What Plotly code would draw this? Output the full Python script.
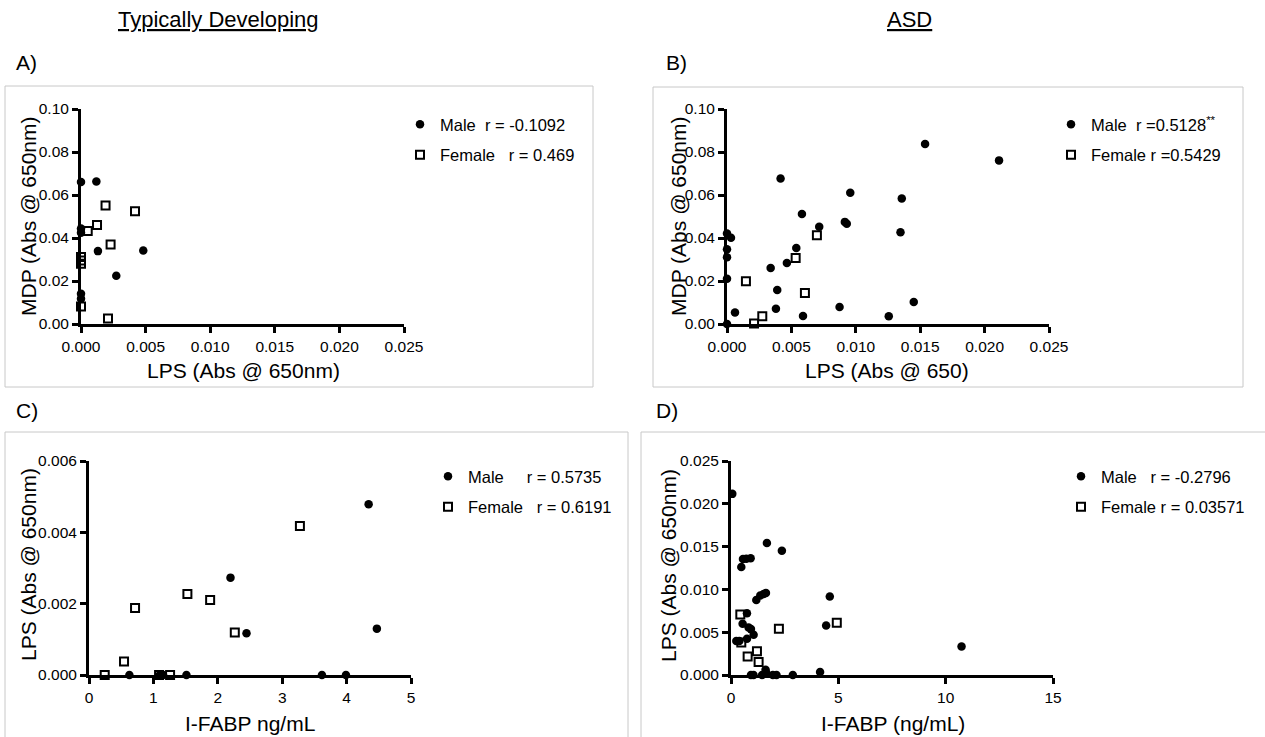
import plotly.graph_objects as go

W, H = 1265, 737

# ---------------- data ----------------
# Panel A: Typically Developing, LPS vs MDP
A_male_x = [0.0, 0.00119, 0.0, 0.0, 0.00131, 0.00482, 0.00273, 0.0, 0.0]
A_male_y = [0.066, 0.0663, 0.0444, 0.0425, 0.0339, 0.0342, 0.0224, 0.0141, 0.0118]
A_female_x = [0.00052, 0.00124, 0.0019, 0.00418, 0.00229, 0.0, 0.0, 0.0, 0.0, 0.00209]
A_female_y = [0.0432, 0.046, 0.0551, 0.0525, 0.037, 0.0312, 0.0295, 0.028, 0.0081, 0.0026]

# Panel B: ASD, LPS vs MDP
B_male_x = [0.0, 0.00031, 0.0, 0.0, 0.0, 0.0, 0.00062, 0.00339, 0.0039, 0.0038,
            0.00416, 0.00465, 0.00538, 0.00582, 0.0059, 0.00716, 0.00874, 0.00915,
            0.0093, 0.00957, 0.01256, 0.01347, 0.01357, 0.0145, 0.01538, 0.02112]
B_male_y = [0.0421, 0.0401, 0.0348, 0.0311, 0.0211, 0.0, 0.0054, 0.0261, 0.0158, 0.0071,
            0.0677, 0.0284, 0.0354, 0.0512, 0.0037, 0.0452, 0.0079, 0.0475,
            0.0466, 0.061, 0.0036, 0.0427, 0.0584, 0.0102, 0.0837, 0.0761]
B_female_x = [0.00147, 0.0021, 0.00274, 0.00533, 0.00698, 0.00605]
B_female_y = [0.0199, 0.0002, 0.0036, 0.0307, 0.0413, 0.0144]

# Panel C: Typically Developing, I-FABP vs LPS
C_male_x = [4.342, 2.197, 2.446, 4.47, 0.627, 1.098, 1.15, 1.513, 3.617, 3.99]
C_male_y = [0.00479, 0.00273, 0.00117, 0.0013, 0.0, 0.0, 0.0, 0.0, 0.0, 0.0]
C_female_x = [0.244, 0.544, 0.715, 1.528, 1.881, 2.264, 3.275, 1.088, 1.259]
C_female_y = [0.0, 0.00038, 0.00188, 0.00227, 0.0021, 0.00119, 0.00418, 0.0, 0.0]

# Panel D: ASD, I-FABP vs LPS
D_male_x = [0.06, 1.673, 2.37, 0.558, 0.713, 0.914, 0.48, 1.178, 1.364, 1.519, 1.627,
            4.602, 4.432, 10.74, 0.744, 0.542, 0.82, 0.93, 1.054, 0.744, 0.248, 0.387,
            1.61, 1.64, 4.15, 0.93, 1.05, 1.45, 1.95, 2.12, 2.88]
D_male_y = [0.02116, 0.01541, 0.01452, 0.01355, 0.01359, 0.01363, 0.01262, 0.00877,
            0.00928, 0.00947, 0.00959, 0.00916, 0.00578, 0.00334, 0.00722, 0.00598,
            0.00555, 0.00536, 0.0047, 0.00423, 0.00396, 0.00396, 0.00062, 0.0003,
            0.00035, 0.0, 0.0, 0.0, 0.0, 0.0, 0.0]
D_female_x = [0.434, 0.48, 0.775, 1.209, 1.286, 2.231, 4.928]
D_female_y = [0.00707, 0.0038, 0.00217, 0.00276, 0.00151, 0.0054, 0.0061]

NB = "\u00a0"
legend_labels = {
    "A": ("Male" + NB * 2 + "r = -0.1092", "Female" + NB * 3 + "r = 0.469"),
    "B": ("Male" + NB * 2 + "r =0.5128<sup>**</sup>", "Female" + NB + "r =0.5429"),
    "C": ("Male" + NB * 5 + "r = 0.5735", "Female" + NB * 3 + "r = 0.6191"),
    "D": ("Male" + NB * 3 + "r = -0.2796", "Female" + NB + "r = 0.03571"),
}

x_titles = {"A": "LPS (Abs @ 650nm)", "B": "LPS (Abs @ 650)",
            "C": "I-FABP ng/mL", "D": "I-FABP (ng/mL)"}
y_titles = {"A": "MDP (Abs @ 650nm)", "B": "MDP (Abs @ 650nm)",
            "C": "LPS (Abs @ 650nm)", "D": "LPS (Abs @ 650nm)"}

x_ticks = {"A": [0, 0.005, 0.01, 0.015, 0.02, 0.025],
           "B": [0, 0.005, 0.01, 0.015, 0.02, 0.025],
           "C": [0, 1, 2, 3, 4, 5],
           "D": [0, 5, 10, 15]}
y_ticks = {"A": [0, 0.02, 0.04, 0.06, 0.08, 0.10],
           "B": [0, 0.02, 0.04, 0.06, 0.08, 0.10],
           "C": [0, 0.002, 0.004, 0.006],
           "D": [0, 0.005, 0.01, 0.015, 0.02, 0.025]}
x_fmt = {"A": ".3f", "B": ".3f", "C": "d", "D": "d"}
y_fmt = {"A": ".2f", "B": ".2f", "C": ".3f", "D": ".3f"}

data = {
    "A": (A_male_x, A_male_y, A_female_x, A_female_y),
    "B": (B_male_x, B_male_y, B_female_x, B_female_y),
    "C": (C_male_x, C_male_y, C_female_x, C_female_y),
    "D": (D_male_x, D_male_y, D_female_x, D_female_y),
}

# ---------------- layout geometry (pixels) ----------------
def px(x):
    return x / W

def py(y):
    return 1 - y / H

# plot areas: (x0, x1, ytop, ybottom)
areas = {"A": (81, 404, 109, 324), "B": (727, 1049, 109, 324),
         "C": (89, 411, 461, 675), "D": (731, 1053, 461, 675)}
boxes = {"A": (5, 593, 86, 387), "B": (653, 1243, 87, 387),
         "C": (5, 628, 432, 745), "D": (641, 1270, 432, 745)}
legend_pos = {"A": (400, 107), "B": (1051, 107), "C": (428, 459), "D": (1061, 459)}
xtitle_pos = {"A": (243, 370), "B": (887, 370), "C": (250, 723), "D": (893, 723)}
ytitle_pos = {"A": (28, 216), "B": (678, 216), "C": (28, 565), "D": (668, 565)}
panel_letters = {"A": (14, 62), "B": (664, 62), "C": (14, 410), "D": (654, 410)}

FONT = "Liberation Sans, Arial, sans-serif"

fig = go.Figure()
layout = dict(
    width=W, height=H,
    margin=dict(l=0, r=0, t=0, b=0, pad=0, autoexpand=False),
    paper_bgcolor="white", plot_bgcolor="white",
    font=dict(family=FONT, color="black"),
    shapes=[], annotations=[],
)

for i, key in enumerate(["A", "B", "C", "D"]):
    n = "" if i == 0 else str(i + 1)
    xa, ya = "x" + n, "y" + n
    leg = "legend" + n
    mx, my, fx, fy = data[key]
    mlab, flab = legend_labels[key]
    fig.add_trace(go.Scatter(
        x=mx, y=my, mode="markers", name=mlab, xaxis=xa, yaxis=ya,
        legend=leg, legendgroup=key + "m", cliponaxis=False,
        marker=dict(symbol="circle", size=8.5, color="black"),
    ))
    fig.add_trace(go.Scatter(
        x=fx, y=fy, mode="markers", name=flab, xaxis=xa, yaxis=ya,
        legend=leg, legendgroup=key + "f", cliponaxis=False,
        marker=dict(symbol="square-open", size=8,
                    color="black", line=dict(width=2, color="black")),
    ))
    x0, x1, yt, yb = areas[key]
    xt = x_ticks[key]
    yt_ = y_ticks[key]
    axis_common = dict(
        showline=True, linecolor="black", linewidth=3,
        ticks="outside", ticklen=6, tickwidth=2.5, tickcolor="black",
        showgrid=False, zeroline=False, fixedrange=True, automargin=False,
        tickfont=dict(size=15.5, family=FONT, color="black"),
    )
    layout["xaxis" + n] = dict(
        axis_common, domain=[px(x0), px(x1)], anchor=ya,
        range=[xt[0], xt[-1]], tickvals=xt, tickformat=x_fmt[key],
    )
    layout["yaxis" + n] = dict(
        axis_common, domain=[py(yb), py(yt)], anchor=xa,
        range=[yt_[0], yt_[-1]], tickvals=yt_, tickformat=y_fmt[key],
    )
    lx, ly = legend_pos[key]
    layout[leg] = dict(
        x=px(lx), y=py(ly), xanchor="left", yanchor="top",
        bgcolor="rgba(0,0,0,0)", borderwidth=0,
        font=dict(size=16.5, family=FONT, color="black"),
        traceorder="grouped", tracegroupgap=6, itemclick=False,
    )
    bx0, bx1, by0, by1 = boxes[key]
    layout["shapes"].append(dict(
        type="rect", xref="paper", yref="paper",
        x0=px(bx0), x1=px(bx1), y0=py(by1), y1=py(by0),
        line=dict(color="#c8c8c8", width=1), fillcolor="rgba(0,0,0,0)",
        layer="below",
    ))
    tx, ty = xtitle_pos[key]
    layout["annotations"].append(dict(
        text=x_titles[key], x=px(tx), y=py(ty), xref="paper", yref="paper",
        xanchor="center", yanchor="middle", showarrow=False,
        font=dict(size=21, family=FONT, color="black"),
    ))
    tx, ty = ytitle_pos[key]
    layout["annotations"].append(dict(
        text=y_titles[key], x=px(tx), y=py(ty), xref="paper", yref="paper",
        xanchor="center", yanchor="middle", showarrow=False, textangle=-90,
        font=dict(size=21, family=FONT, color="black"),
    ))
    lx, ly = panel_letters[key]
    layout["annotations"].append(dict(
        text=key + ")", x=px(lx), y=py(ly), xref="paper", yref="paper",
        xanchor="left", yanchor="middle", showarrow=False,
        font=dict(size=21, family=FONT, color="black"),
    ))

for text, cx in [("Typically Developing", 218), ("ASD", 910)]:
    layout["annotations"].append(dict(
        text="<u>" + text + "</u>", x=px(cx), y=py(20), xref="paper", yref="paper",
        xanchor="center", yanchor="middle", showarrow=False,
        font=dict(size=22, family=FONT, color="black"),
    ))

fig.update_layout(**layout)
fig.write_html("out.html")
